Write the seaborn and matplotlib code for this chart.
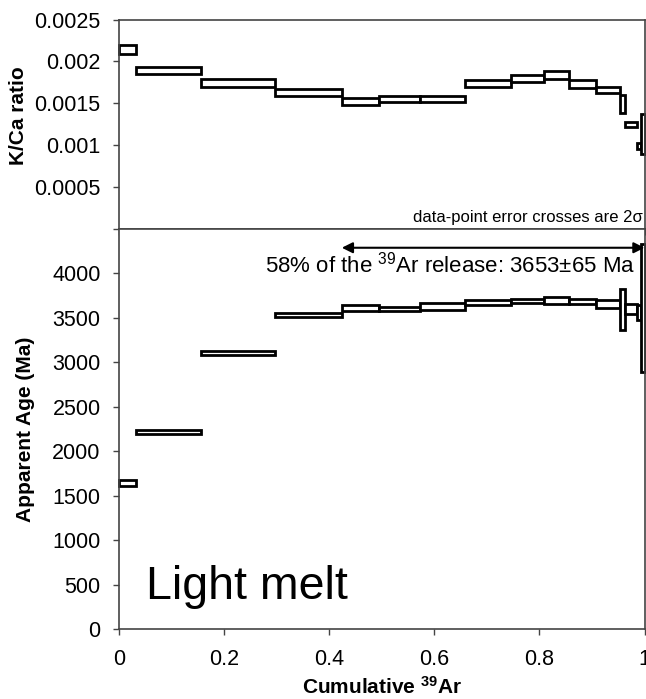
import numpy as np
import pandas as pd
import matplotlib
matplotlib.use("Agg")
import matplotlib.pyplot as plt
import seaborn as sns

# step boundaries (cumulative 39Ar fraction)
cum = [0, 0.033, 0.156, 0.297, 0.424, 0.495, 0.573, 0.658, 0.746, 0.808,
       0.856, 0.908, 0.953, 0.962, 0.985, 0.993, 1.0]

# K/Ca ratio per step, with half-height of the error box
kca = [0.00214, 0.00189, 0.00174, 0.00163, 0.00152, 0.00155, 0.00155, 0.00174,
       0.00180, 0.00184, 0.00173, 0.00166, 0.00149, 0.00125, 0.00099, 0.00113]
kca_err = [0.00005, 0.00004, 0.000045, 0.00004, 0.00004, 0.00004, 0.00004, 0.00004,
           0.00004, 0.000045, 0.000045, 0.000035, 0.00011, 0.00003, 0.00004, 0.00024]

# apparent age (Ma) per step
age = [1642, 2221, 3105, 3531, 3607, 3599, 3629, 3674,
       3692, 3695, 3685, 3659, 3594, 3600, 3556, 3612]
age_err = [32, 22, 22, 22, 34, 22, 37, 30,
           20, 43, 26, 45, 234, 60, 84, 720]

x_ticks = [0, 0.2, 0.4, 0.6, 0.8, 1]
x_ticklabels = ["0", "0.2", "0.4", "0.6", "0.8", "1"]
kca_ticks = [0, 0.0005, 0.001, 0.0015, 0.002, 0.0025]
kca_ticklabels = ["", "0.0005", "0.001", "0.0015", "0.002", "0.0025"]
age_ticks = [0, 500, 1000, 1500, 2000, 2500, 3000, 3500, 4000]

plateau = (0.424, 1.0)
plateau_text = "58% of the $^{39}$Ar release: 3653\u00b165 Ma"

df = pd.DataFrame({
    "left": cum[:-1],
    "width": np.diff(cum),
    "kca": kca, "kca_err": kca_err,
    "age": age, "age_err": age_err,
})

sns.set_theme(style="ticks")
plt.rcParams["font.family"] = ["Liberation Sans", "DejaVu Sans"]
plt.rcParams["mathtext.fontset"] = "custom"
plt.rcParams["mathtext.rm"] = "Liberation Sans"
plt.rcParams["mathtext.bf"] = "Liberation Sans:bold"
plt.rcParams["text.color"] = "black"
plt.rcParams["axes.labelcolor"] = "black"

spine_col = "#444444"

fig = plt.figure(figsize=(6.46, 6.99), dpi=100)
fig.patch.set_facecolor("white")
ax1 = fig.add_axes([0.1842, 0.6724, 0.8135, 0.2997])
ax2 = fig.add_axes([0.1842, 0.1001, 0.8135, 0.5723])

for ax in (ax1, ax2):
    for s in ax.spines.values():
        s.set_color(spine_col)
        s.set_linewidth(1.2)
    ax.tick_params(direction="out", length=4.3, width=1, colors=spine_col,
                   labelcolor="black", labelsize=15.5)
    ax.tick_params(axis="x", pad=10)
    ax.tick_params(axis="y", pad=9)
    ax.set_xlim(0, 1)
    ax.set_xticks(x_ticks)
    ax.set_facecolor("white")

# upper panel: K/Ca
ax1.bar(df["left"], 2 * df["kca_err"], width=df["width"], bottom=df["kca"] - df["kca_err"],
        align="edge", facecolor="white", edgecolor="black", linewidth=2, clip_on=False)
ax1.set_ylim(0, 0.0025)
ax1.set_yticks(kca_ticks)
ax1.set_yticklabels(kca_ticklabels)
ax1.set_xticklabels([])
ax1.set_ylabel("K/Ca ratio", fontsize=15, fontweight="bold")
ax1.yaxis.set_label_coords(-0.174, 0.54)
ax1.text(0.997, 0.000087, "data-point error crosses are 2\u03c3", fontsize=12,
         ha="right", va="baseline")

# lower panel: age spectrum
ax2.bar(df["left"], 2 * df["age_err"], width=df["width"], bottom=df["age"] - df["age_err"],
        align="edge", facecolor="white", edgecolor="black", linewidth=2, clip_on=False)
ax2.set_ylim(0, 4500)
ax2.set_yticks(age_ticks)
ax2.set_xticklabels(x_ticklabels)
ax2.set_ylabel("Apparent Age (Ma)", fontsize=15, fontweight="bold")
ax2.yaxis.set_label_coords(-0.160, 0.5)
ax2.set_xlabel(r"Cumulative $\mathbf{^{39}}$Ar", fontsize=15, fontweight="bold")
ax2.xaxis.set_label_coords(0.5, -0.118)

ax2.annotate("", xy=(plateau[0], 4289), xytext=(plateau[1], 4289),
             arrowprops=dict(arrowstyle="<|-|>", color="black", lw=1.5,
                             mutation_scale=16, shrinkA=0, shrinkB=0))
ax2.text(0.982, 4015, plateau_text, fontsize=16, ha="right", va="baseline")
ax2.text(0.052, 334, "Light melt", fontsize=33.5, ha="left", va="baseline")

fig.savefig("out.png", dpi=100, facecolor="white")
